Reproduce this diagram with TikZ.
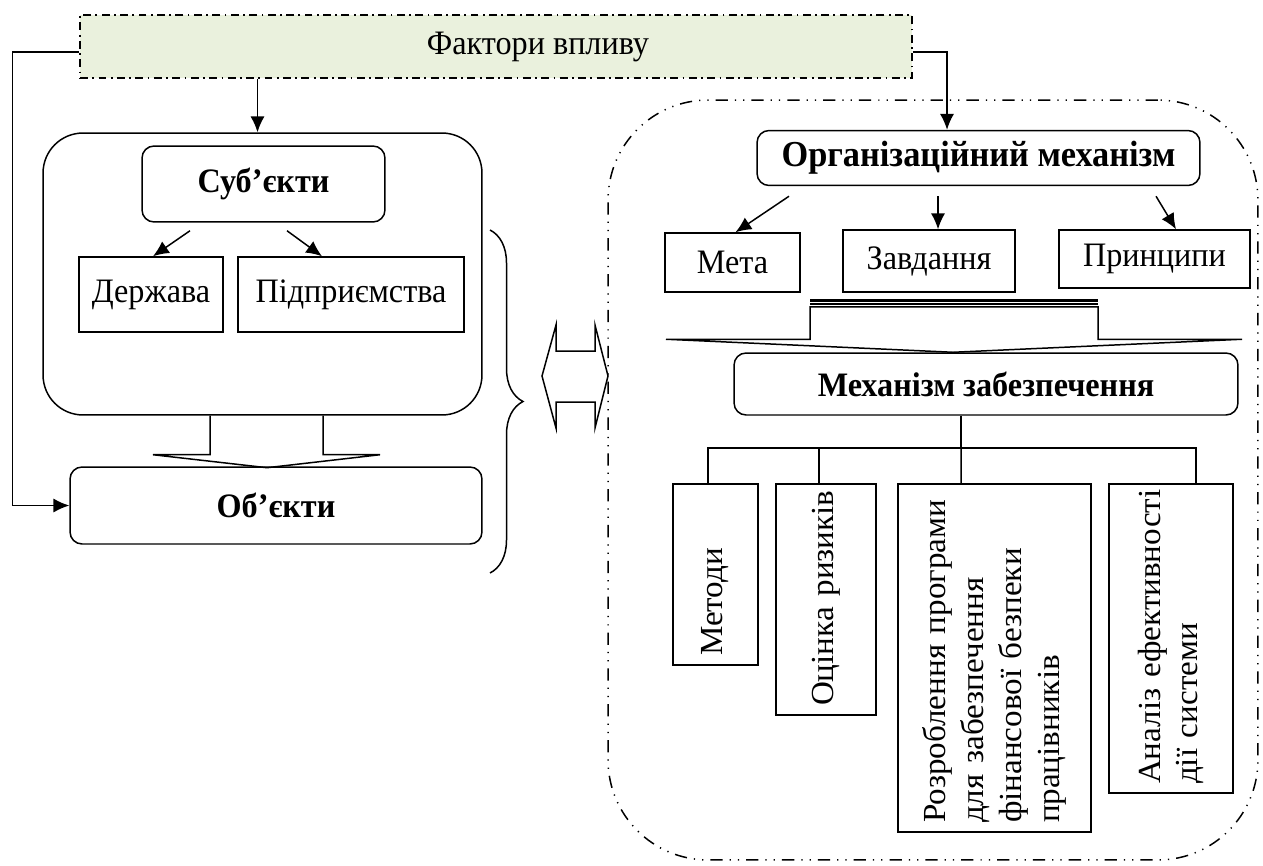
\documentclass[tikz,border=0pt]{standalone}
\usepackage{fontspec}
\setmainfont{Liberation Serif}
\newfontfamily\hfont{Liberation Serif}[FakeStretch=0.94]
\newfontfamily\vfont{Liberation Serif}[FakeStretch=1.03]
\usetikzlibrary{arrows.meta, positioning, calc, decorations.pathreplacing}
\definecolor{factgreen}{HTML}{EAF1DD}
\tikzset{
every node/.style={font=\hfont\fontsize{19.5}{23}\selectfont}, % Times-like text everywhere
>={Latex[length=9pt,width=8pt]}, % filled arrow heads
plainbox/.style={draw, rectangle, inner sep=0pt, line width=0.85pt}, % plain frame
rbox/.style={plainbox, rounded corners=0.24cm, font=\hfont\fontsize{19.5}{23}\selectfont\bfseries}, % bold rounded frame
vbox/.style={plainbox, rotate=90, inner xsep=0.18cm, align=left, font=\vfont\fontsize{18.3}{21.5}\selectfont}, % upright box, text read bottom to top
dashdot/.style={dash pattern=on 4.5pt off 2.5pt on 1pt off 2.5pt}, % frame of the factors
dashdotdot/.style={dash pattern=on 7pt off 4pt on 0.7pt off 4pt on 0.7pt off 4pt}, % frame of the mechanism
}

\begin{document}
\begin{tikzpicture}[x=0.02cm, y=-0.02cm, line width=0.85pt]
    \useasboundingbox (0,0) rectangle (1263,865);
    % factors
    \node[plainbox, dashdot, fill=factgreen, minimum width=16.64cm, minimum height=1.26cm] (fact) at (496,46.5) {\hspace*{1.68cm}Фактори впливу};
    % left part: subjects and objects
    \node[plainbox, rounded corners=0.8cm, minimum width=8.78cm, minimum height=5.64cm] (subjsys) at (262.5,274) {};
    \node[rbox, minimum width=4.86cm, minimum height=1.52cm] (subj) at (263.5,184) {Суб’єкти};
    \node[plainbox, minimum width=2.88cm, minimum height=1.5cm] (derzh) at (151,294.5) {Держава};
    \node[plainbox, minimum width=4.52cm, minimum height=1.5cm] (pidpr) at (351,294.5) {Підприємства};
    \node[rbox, minimum width=8.24cm, minimum height=1.54cm] (obj) at (276,505.5) {Об’єкти};
    % right part: mechanism
    \node[plainbox, dashdotdot, rounded corners=2cm, minimum width=13cm, minimum height=15.2cm] (mechsys) at (933,480) {};
    \node[rbox, minimum width=8.86cm, minimum height=1.1cm, font=\hfont\fontsize{20.8}{24}\selectfont\bfseries] (org) at (978.5,158) {Організаційний механізм};
    \node[plainbox, minimum width=2.7cm, minimum height=1.18cm] (meta) at (732.5,262.5) {Мета};
    \node[plainbox, minimum width=3.44cm, minimum height=1.24cm] (zavd) at (929,261) {Завдання};
    \node[plainbox, minimum width=3.82cm, minimum height=1.16cm] (princ) at (1154.5,259) {Принципи};
    \node[rbox, minimum width=10.08cm, minimum height=1.24cm] (mech) at (986,384) {Механізм забезпечення};
    \node[vbox, minimum height=1.7cm, text width=3.26cm] (metod) at (715.5,574.5) {Методи};
    \node[vbox, minimum height=2cm, text width=4.26cm] (ocin) at (826,599.5) {Оцінка~ризиків};
    \node[vbox, minimum height=3.86cm, text width=6.6cm] (rozr) at (994.5,658) {Розроблення~програми\\для~забезпечення\\фінансової~безпеки\\працівників};
    \node[vbox, minimum height=2.48cm, text width=5.82cm] (anal) at (1171,638.5) {Аналіз~ефективності\\дії~системи};
    % arrows
    \draw[->] ([xshift=-0.1cm]subjsys.north |- fact.south) -- ([xshift=-0.1cm]subjsys.north);
    \draw[->] ([yshift=-0.11cm]fact.west) -- ++(-67,0) |- (obj.west);
    \draw[->] ([yshift=-0.11cm]fact.east) -| ($(org.north)+(-31.5,0)$);
    \draw[->] ($(subj.south)+(-73.5,8)$) -- ($(derzh.north)+(2,0)$);
    \draw[->] ($(subj.south)+(23.5,8)$) -- ($(pidpr.north)+(-29,0)$);
    \draw[->] ($(org.south)+(-189.5,10)$) -- ($(meta.north)+(3,0)$);
    \draw[->] ($(org.south)+(-40.5,10)$) -- ($(zavd.north)+(9,0)$);
    \draw[->] ($(org.south)+(177.5,10)$) -- ($(princ.north)+(21.5,0)$);
    % block arrows and brace
    \draw[shift={(subjsys.south)}] (-52.5,0) -- (-52.5,39) -- (-109.5,39) -- (4.5,52) -- (117.5,39) -- (60.5,39) -- (60.5,0);
    \draw[shift={(mech.north)}] (-320,-13) -- (-176,-13) -- (-176,-45.5) -- (112,-45.5) -- (112,-13) -- (256,-13) -- (-33,0) -- cycle;
    \draw[shift={(mech.north)}, line width=1.7pt] (-176,-51.5) -- (112,-51.5);
    \draw[shift={(mech.north)}] (-176,-48.3) -- (112,-48.3);
    \coordinate (bracetop) at (490,230);
    \coordinate (bracebot) at (490,573);
    \draw[decorate, decoration={brace, amplitude=0.66cm}] (bracetop) -- (bracebot);
    \coordinate (link) at (575,376);
    \draw[shift={(link)}] (-33,0) -- (-19,-51) -- (-19,-25) -- (20,-25) -- (20,-51) -- (33,0) -- (20,52) -- (20,26) -- (-19,26) -- (-19,52) -- cycle;
    % tree below the mechanism
    \coordinate (hub) at (961,448);
    \draw (hub |- mech.south) -- (hub);
    \draw ([xshift=-0.15cm]metod.east) |- (hub) -| ([xshift=0.5cm]anal.east);
    \draw ([xshift=-0.14cm]ocin.east) -- ([xshift=-0.14cm]ocin.east |- hub);
    \draw (hub) -- ([xshift=-0.67cm]rozr.east);
\end{tikzpicture}
\end{document}
